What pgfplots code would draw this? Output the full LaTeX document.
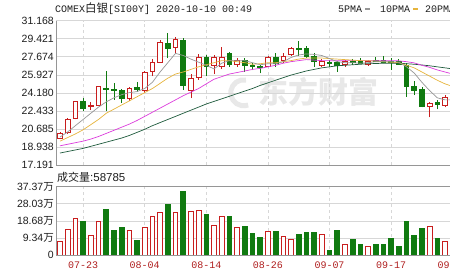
\documentclass[border=0pt]{standalone}
\usepackage{pgfplots}
\usepackage{pgfplotstable}
\pgfplotsset{compat=1.18}
\usepackage{fontspec}
\setmainfont{Liberation Sans}
\newfontfamily\cjk{Noto Sans CJK SC}
\newfontfamily\mono{Liberation Mono}

\definecolor{upred}{RGB}{200,30,30}
\definecolor{dngreen}{RGB}{16,122,16}
\definecolor{ma5}{RGB}{150,150,150}
\definecolor{ma10}{RGB}{230,180,60}
\definecolor{ma20}{RGB}{220,60,220}
\definecolor{ma60}{RGB}{30,90,60}
\definecolor{datered}{RGB}{175,30,30}
\definecolor{gridc}{RGB}{215,215,215}
\definecolor{framec}{RGB}{150,150,150}
\definecolor{labelc}{RGB}{30,30,30}
\definecolor{wmark}{RGB}{232,232,232}

% daily bars: open high low close, volume in units of 10^4
\pgfplotstableread{
i o h l c v
0 19.78 20.42 19.71 20.26 7.65
1 20.32 21.75 20.20 21.65 14.2
2 21.71 23.39 21.62 23.32 20.1
3 23.39 23.65 22.45 22.68 18.2
4 22.87 23.26 22.52 23.00 10.8
5 23.00 24.85 22.90 24.78 18.6
6 24.65 26.30 22.45 24.55 25.1
7 24.55 25.10 23.49 24.39 13.7
8 24.46 24.55 23.23 23.65 15.3
9 23.65 24.70 23.36 24.62 13.7
10 24.68 25.26 24.29 24.49 7.8
11 24.43 26.30 24.20 26.20 15.3
12 26.27 27.41 25.81 27.17 21.2
13 27.14 29.30 27.07 29.10 23.5
14 29.01 29.98 27.55 28.46 27.9
15 28.59 29.56 28.04 29.33 23.5
16 29.23 29.49 24.49 24.91 35.0
17 24.43 26.00 23.68 25.62 24.0
18 25.69 27.94 25.45 27.62 24.6
19 27.62 27.82 25.78 26.75 22.4
20 26.85 27.88 26.00 27.62 16.4
21 26.78 28.65 26.50 27.65 21.3
22 28.00 28.17 26.71 26.90 21.3
23 26.97 27.52 26.71 27.36 15.1
24 27.36 27.52 26.23 26.88 15.9
25 26.88 27.10 26.39 26.71 12.0
26 26.71 26.88 26.07 26.63 9.8
27 26.78 27.75 26.65 27.62 13.1
28 27.62 28.01 26.71 27.04 13.1
29 27.29 28.01 27.10 27.75 10.4
30 27.91 28.65 27.75 28.49 8.7
31 28.49 29.23 27.75 28.40 11.5
32 28.49 28.72 27.52 27.75 12.6
33 27.75 28.01 26.71 27.20 12.6
34 26.88 27.43 26.71 27.27 11.3
35 27.10 27.36 26.71 27.04 2.7
36 27.14 27.27 26.23 26.88 13.7
37 26.97 27.36 26.71 27.20 5.8
38 27.20 27.46 26.88 27.10 8.7
39 27.20 27.52 26.94 27.04 6.0
40 26.94 27.36 26.80 27.27 4.9
41 27.36 27.68 27.20 27.27 6.0
42 27.30 27.75 27.04 27.10 6.0
43 27.27 27.52 26.39 27.10 9.3
44 27.20 27.43 26.88 26.97 4.9
45 26.88 27.04 23.81 24.78 18.2
46 24.78 25.33 23.97 24.46 10.9
47 24.55 24.78 22.78 22.84 14.8
48 22.84 23.32 21.81 23.17 15.7
49 23.26 23.49 22.59 23.10 9.3
50 23.00 23.97 22.78 23.75 7.65
}\kline

% moving averages
\pgfplotstableread{
i m5 m10 m20 m60
0 19.9 19.5 19.05 18.35
1 20.4 19.85 19.2 18.5
2 21.0 20.2 19.35 18.65
3 21.6 20.6 19.5 18.8
4 22.2 21.1 19.7 19.0
5 22.8 21.6 19.95 19.2
6 23.3 22.2 20.25 19.4
7 23.7 22.6 20.55 19.6
8 24.0 23.0 20.85 19.8
9 24.2 23.4 21.15 20.05
10 24.3 23.8 21.5 20.35
11 24.6 24.2 21.9 20.65
12 25.2 24.6 22.3 21.0
13 26.2 25.1 22.7 21.3
14 27.1 25.6 23.1 21.6
15 28.0 26.0 23.5 21.9
16 27.8 26.2 23.9 22.2
17 27.45 26.45 24.25 22.5
18 27.15 26.7 24.6 22.8
19 26.85 26.9 25.05 23.1
20 26.5 27.1 25.5 23.35
21 27.05 27.3 25.75 23.6
22 27.3 27.3 26.0 23.85
23 27.3 27.2 26.15 24.1
24 27.3 27.1 26.3 24.35
25 27.1 26.95 26.45 24.6
26 26.9 27.0 26.55 24.9
27 27.0 27.1 26.7 25.15
28 27.0 27.1 26.85 25.4
29 27.2 27.2 27.05 25.65
30 27.6 27.3 27.2 25.9
31 27.85 27.45 27.3 26.1
32 27.95 27.55 27.4 26.3
33 27.9 27.55 27.35 26.45
34 27.8 27.55 27.3 26.6
35 27.5 27.5 27.3 26.7
36 27.2 27.45 27.28 26.8
37 27.1 27.4 27.3 26.85
38 27.1 27.35 27.3 26.9
39 27.05 27.3 27.3 26.95
40 27.1 27.3 27.3 27.0
41 27.2 27.25 27.3 27.02
42 27.2 27.2 27.3 27.05
43 27.2 27.15 27.3 27.05
44 27.15 27.1 27.28 27.05
45 26.7 26.85 27.2 27.0
46 26.1 26.6 27.08 26.95
47 25.2 26.2 26.85 26.88
48 24.4 25.8 26.65 26.8
49 23.7 25.4 26.4 26.7
50 23.5 25.05 26.2 26.6
51 23.5 24.8 26.0 26.5
}\mavg

\pgfplotsset{
  panel/.style={
    scale only axis, width=412.1pt,
    xmin=-0.52, xmax=53,
    major tick length=0pt,
    xtick={3,11,19,27,35,43,51},
    xmajorgrids, ymajorgrids,
    x grid style={dashed, gridc, line width=0.6pt},
    y grid style={gridc, line width=0.6pt},
    axis line style={framec, line width=0.7pt},
    tick label style={font=\fontsize{10.5}{12}\selectfont, text=labelc},
    yticklabel style={inner sep=2pt},
    clip=true,
  },
}

\begin{document}
\begin{tikzpicture}
\useasboundingbox (0,0) rectangle (450pt,276pt);
\clip (0,0) rectangle (450pt,276pt);

% watermark
\node[text=wmark, font=\cjk\bfseries\fontsize{30}{30}\selectfont] at (318pt,184pt) {东方财富};
\draw[wmark, line width=5pt] (246pt,196pt) arc (80:290:13pt);

% header
\node[anchor=base west, inner sep=0pt, text=labelc] at (55pt,263.5pt)
  {{\mono\fontsize{10}{12}\selectfont COMEX}{\cjk\fontsize{11.5}{12}\selectfont 白银}{\mono\fontsize{10}{12}\selectfont [SI00Y] 2020-10-10 00:49}};
\node[anchor=base west, inner sep=0pt, text=labelc, font=\mono\fontsize{10}{12}\selectfont] at (338pt,263.5pt) {5PMA};
\fill[ma5] (364.5pt,265.5pt) rectangle (370pt,267.5pt);
\node[anchor=base west, inner sep=0pt, text=labelc, font=\mono\fontsize{10}{12}\selectfont] at (380pt,263.5pt) {10PMA};
\fill[ma10] (412.5pt,265.5pt) rectangle (418pt,267.5pt);
\node[anchor=base west, inner sep=0pt, text=labelc, font=\mono\fontsize{10}{12}\selectfont] at (425pt,263.5pt) {20PMA};

% price panel
\begin{axis}[panel,
  at={(56pt,111pt)}, anchor=south west, height=144.3pt,
  ymin=17.191, ymax=31.168,
  axis x line*=bottom, axis y line*=left,
  xticklabels={},
  ytick={17.191,18.938,20.685,22.433,24.180,25.927,27.674,29.421,31.168},
  yticklabels={17.191,18.938,20.685,22.433,24.180,25.927,27.674,29.421,31.168},
]
\pgfplotsforeachungrouped \k in {0,...,50}{%
  \pgfplotstablegetelem{\k}{o}\of\kline \let\O\pgfplotsretval
  \pgfplotstablegetelem{\k}{h}\of\kline \let\H\pgfplotsretval
  \pgfplotstablegetelem{\k}{l}\of\kline \let\L\pgfplotsretval
  \pgfplotstablegetelem{\k}{c}\of\kline \let\C\pgfplotsretval
  \pgfmathsetmacro\xa{\k-0.31}%
  \pgfmathsetmacro\xb{\k+0.31}%
  \pgfmathtruncatemacro\up{\C>=\O ? 1 : 0}%
  \ifnum\up=1
    \def\bodystyle{draw=upred,fill=white}\def\wick{upred}%
  \else
    \def\bodystyle{draw=dngreen,fill=dngreen}\def\wick{dngreen}%
  \fi
  \edef\cmd{%
    \noexpand\addplot[\wick, line width=0.8pt] coordinates {(\k,\L) (\k,\H)};
    \noexpand\addplot[\bodystyle, line width=0.8pt] coordinates {(\xa,\O) (\xb,\O) (\xb,\C) (\xa,\C)} -- cycle;
  }\cmd
}
\addplot[ma60, line width=0.7pt] table[x=i, y=m60] {\mavg};
\addplot[ma20, line width=0.7pt] table[x=i, y=m20] {\mavg};
\addplot[ma10, line width=0.7pt] table[x=i, y=m10] {\mavg};
\addplot[ma5,  line width=0.7pt] table[x=i, y=m5]  {\mavg};
\end{axis}

% volume label
\node[anchor=base west, inner sep=0pt, text=labelc] at (57pt,94pt)
  {{\cjk\fontsize{11}{12}\selectfont 成交量}{\fontsize{11.5}{12}\selectfont :58785}};

% volume panel
\begin{axis}[panel,
  at={(56pt,21pt)}, anchor=south west, height=68.3pt,
  ymin=0, ymax=37.37,
  ytick={0,9.34,18.68,28.03,37.37},
  yticklabels={0,{9.34{\cjk 万}},{18.68{\cjk 万}},{28.03{\cjk 万}},{37.37{\cjk 万}}},
  xticklabels={07-23,08-04,08-14,08-26,09-07,09-17,09-29},
  xticklabel style={font=\mono\fontsize{10}{12}\selectfont, text=datered, yshift=-3.5pt},
]
\pgfplotsforeachungrouped \k in {0,...,50}{%
  \pgfplotstablegetelem{\k}{o}\of\kline \let\O\pgfplotsretval
  \pgfplotstablegetelem{\k}{c}\of\kline \let\C\pgfplotsretval
  \pgfplotstablegetelem{\k}{v}\of\kline \let\V\pgfplotsretval
  \pgfmathsetmacro\xa{\k-0.31}%
  \pgfmathsetmacro\xb{\k+0.31}%
  \pgfmathtruncatemacro\up{\C>=\O ? 1 : 0}%
  \ifnum\up=1
    \def\bodystyle{draw=upred,fill=white}%
  \else
    \def\bodystyle{draw=dngreen,fill=dngreen}%
  \fi
  \edef\cmd{%
    \noexpand\addplot[\bodystyle, line width=0.8pt] coordinates {(\xa,0) (\xb,0) (\xb,\V) (\xa,\V)} -- cycle;
  }\cmd
}
\end{axis}
\end{tikzpicture}
\end{document}
